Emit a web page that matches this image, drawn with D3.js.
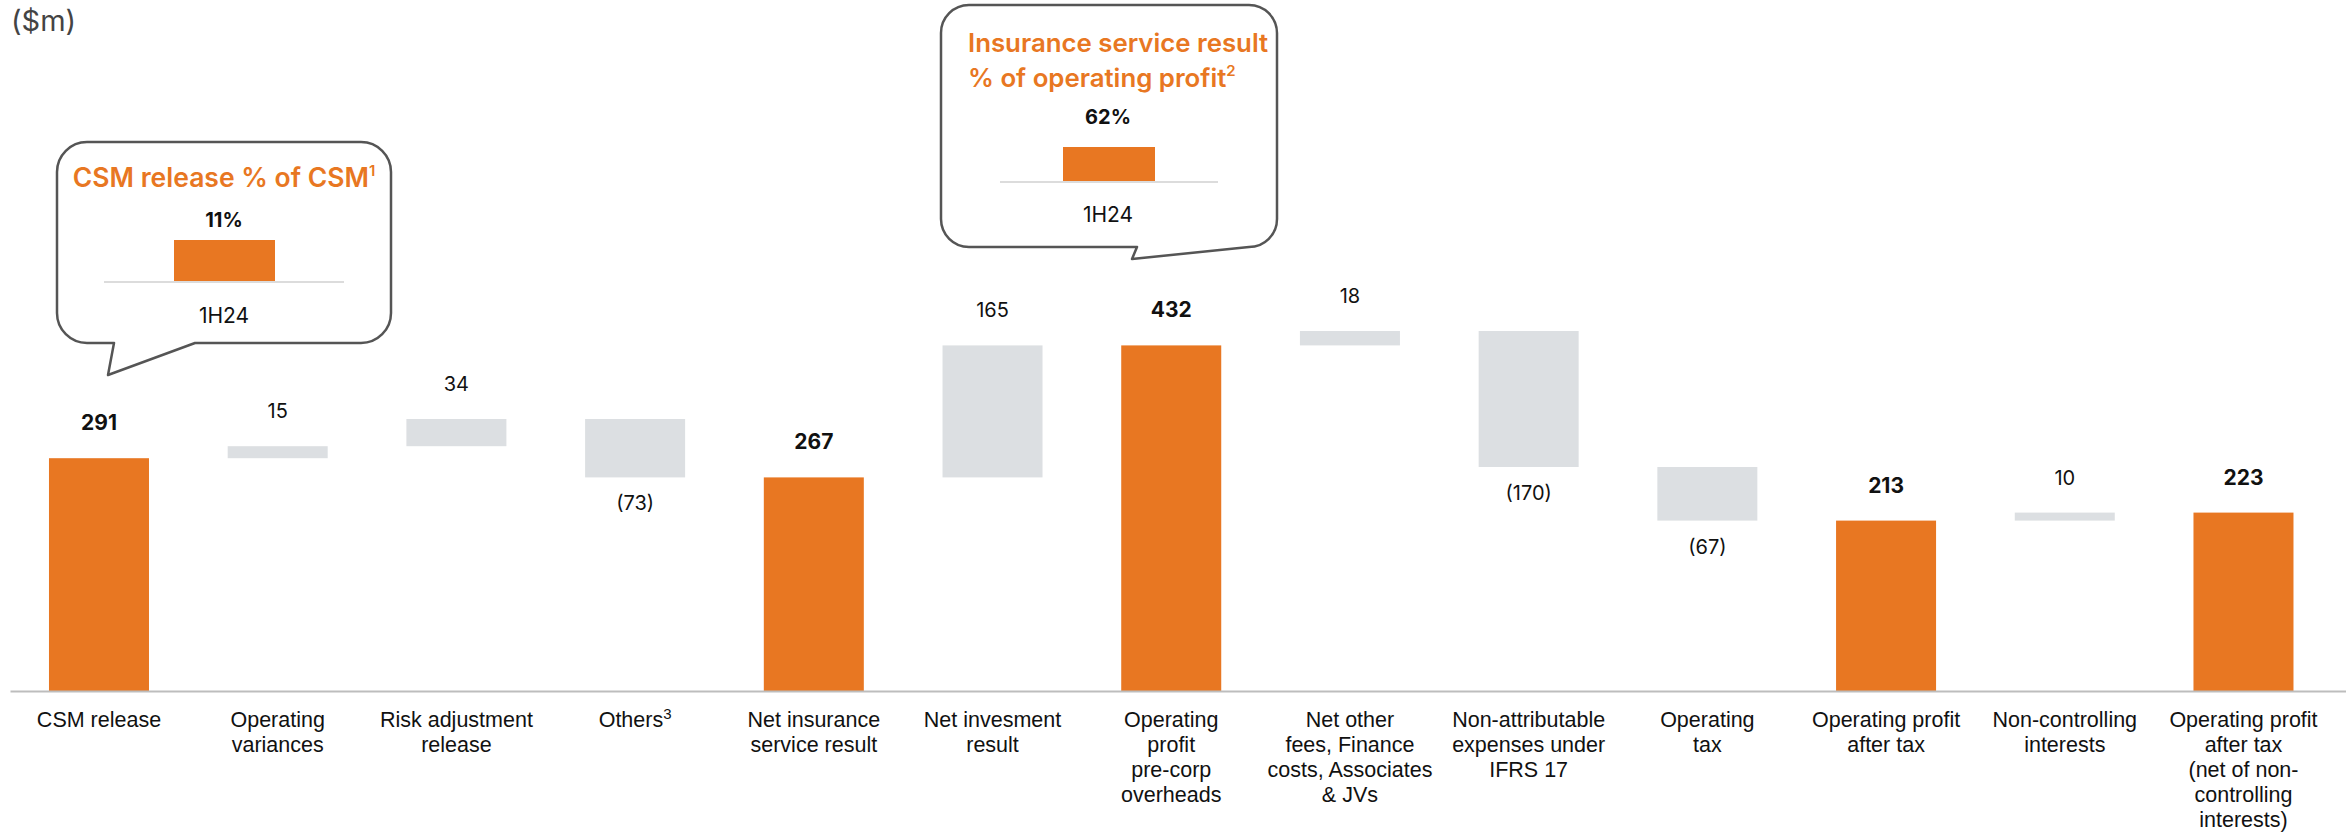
<!DOCTYPE html>
<html>
<head>
<meta charset="utf-8">
<script src="https://cdn.jsdelivr.net/npm/d3@7"></script>
<style>
  html, body { margin: 0; padding: 0; background: #ffffff; }
  svg { display: block; font-family: Inter, "Noto Sans", Arial, sans-serif; }
</style>
</head>
<body>
<svg id="chart" width="2346" height="833"></svg>
<script>
// ---------- data ----------
const categories = [
  "CSM release", "Operating variances", "Risk adjustment release", "Others",
  "Net insurance service result", "Net invesment result", "Operating profit pre-corp overheads",
  "Net other fees, Finance costs, Associates & JVs", "Non-attributable expenses under IFRS 17",
  "Operating tax", "Operating profit after tax", "Non-controlling interests",
  "Operating profit after tax (net of non-controlling interests)"
];
const categoryLines = [
  ["CSM release"],
  ["Operating", "variances"],
  ["Risk adjustment", "release"],
  ["Others|3"],
  ["Net insurance", "service result"],
  ["Net invesment", "result"],
  ["Operating", "profit", "pre-corp", "overheads"],
  ["Net other", "fees, Finance", "costs, Associates", "& JVs"],
  ["Non-attributable", "expenses under", "IFRS 17"],
  ["Operating", "tax"],
  ["Operating profit", "after tax"],
  ["Non-controlling", "interests"],
  ["Operating profit", "after tax", "(net of non-", "controlling", "interests)"]
];
const values = [291, 15, 34, -73, 267, 165, 432, 18, -170, -67, 213, 10, 223];
const barTypes = ["total", "delta", "delta", "delta", "total", "delta", "total",
                  "delta", "delta", "delta", "total", "delta", "total"];

const csmPeriod = ["1H24"];
const csmReleasePct = [11];
const isrPeriod = ["1H24"];
const isrPct = [62];

const unitLabel = "($m)";

// ---------- style ----------
const ORANGE = "#E87722";
const GREY = "#DCDFE2";
const TEXT = "#111111";

const svg = d3.select("#chart");

// ---------- scales ----------
const x = d3.scaleBand()
  .domain(categories)
  .range([10, 2346])
  .paddingInner(0.4404)
  .paddingOuter(0.256)
  .align(0.426);

const y = d3.scaleLinear()
  .domain([0, 450])
  .range([691, 331]);

// waterfall computation
let running = 0;
const bars = categories.map((c, i) => {
  const v = values[i];
  let y0, y1;
  if (barTypes[i] === "total") {
    y0 = 0; y1 = v; running = v;
  } else {
    y0 = running; y1 = running + v; running = y1;
  }
  return { cat: c, value: v, type: barTypes[i], lo: Math.min(y0, y1), hi: Math.max(y0, y1) };
});

// ---------- bars ----------
svg.append("g").selectAll("rect")
  .data(bars)
  .join("rect")
  .attr("x", d => x(d.cat))
  .attr("width", x.bandwidth())
  .attr("y", d => y(d.hi))
  .attr("height", d => y(d.lo) - y(d.hi))
  .attr("fill", d => d.type === "total" ? ORANGE : GREY);

// ---------- value labels ----------
svg.append("g").selectAll("text")
  .data(bars)
  .join("text")
  .attr("x", d => x(d.cat) + x.bandwidth() / 2)
  .attr("y", d => d.value >= 0 ? y(d.hi) - 28 : y(d.lo) + 33)
  .attr("text-anchor", "middle")
  .attr("fill", TEXT)
  .style("font-size", d => d.type === "total" ? "21px" : "20px")
  .style("font-weight", d => d.type === "total" ? 700 : 400)
  .text(d => d.value >= 0 ? d3.format("d")(d.value) : "(" + d3.format("d")(-d.value) + ")");

// ---------- x axis ----------
const xAxis = d3.axisBottom(x).tickSize(0).tickFormat("");
const axisG = svg.append("g")
  .attr("transform", `translate(0,${y(0)})`)
  .call(xAxis);
axisG.select(".domain").attr("stroke", "#bdbdbd").attr("stroke-width", 2);

axisG.selectAll(".tick").each(function(d, i) {
  const t = d3.select(this).append("text")
    .attr("text-anchor", "middle")
    .attr("fill", TEXT)
    .style("font-size", "21.5px")
    .attr("y", 36);
  categoryLines[i].forEach((line, j) => {
    const parts = line.split("|");
    t.append("tspan")
      .attr("x", 0)
      .attr("dy", j === 0 ? 0 : 25)
      .text(parts[0]);
    if (parts[1]) {
      t.append("tspan")
        .attr("dy", -8)
        .style("font-size", "15px")
        .text(parts[1]);
    }
  });
});

// ---------- unit label ----------
svg.append("text")
  .attr("x", 11)
  .attr("y", 31)
  .attr("fill", "#444")
  .style("font-size", "29px")
  .text(unitLabel);

// ---------- callouts ----------
function calloutPath(x0, y0, x1, y1, r, footL, tip, footR) {
  const p = d3.path();
  p.moveTo(x0 + r, y0);
  p.lineTo(x1 - r, y0);
  p.arcTo(x1, y0, x1, y0 + r, r);
  p.lineTo(x1, y1 - r);
  p.arcTo(x1, y1, x1 - r, y1, r);
  p.lineTo(footR, y1);
  p.lineTo(tip[0], tip[1]);
  p.lineTo(footL, y1);
  p.lineTo(x0 + r, y1);
  p.arcTo(x0, y1, x0, y1 - r, r);
  p.lineTo(x0, y0 + r);
  p.arcTo(x0, y0, x0 + r, y0, r);
  p.closePath();
  return p.toString();
}

function miniChart(g, period, pct, bx0, bx1, lineX0, lineX1, baseY, topY, cx, pctY, periodY) {
  const mx = d3.scaleBand().domain(period).range([bx0, bx1]);
  const my = d3.scaleLinear().domain([0, pct[0]]).range([baseY, topY]);
  g.append("line")
    .attr("x1", lineX0).attr("x2", lineX1)
    .attr("y1", baseY + 1).attr("y2", baseY + 1)
    .attr("stroke", "#dcdcdc").attr("stroke-width", 2);
  g.selectAll("rect.mini").data(pct).join("rect")
    .attr("class", "mini")
    .attr("x", (d, i) => mx(period[i]))
    .attr("width", mx.bandwidth())
    .attr("y", d => my(d))
    .attr("height", d => my(0) - my(d))
    .attr("fill", ORANGE);
  g.selectAll("text.pct").data(pct).join("text")
    .attr("class", "pct")
    .attr("x", cx).attr("y", pctY)
    .attr("text-anchor", "middle")
    .attr("fill", TEXT)
    .style("font-size", "20px").style("font-weight", 700)
    .text(d => d + "%");
  g.selectAll("text.per").data(period).join("text")
    .attr("class", "per")
    .attr("x", cx).attr("y", periodY)
    .attr("text-anchor", "middle")
    .attr("fill", TEXT)
    .style("font-size", "21px")
    .text(d => d);
}

// Callout 1
const c1 = svg.append("g");
c1.append("path")
  .attr("d", calloutPath(57, 142, 391, 343, 30, 114, [108, 375], 195))
  .attr("fill", "#fff")
  .attr("stroke", "#555")
  .attr("stroke-width", 2.5)
  .attr("stroke-linejoin", "round");
const t1 = c1.append("text")
  .attr("x", 224).attr("y", 187)
  .attr("text-anchor", "middle")
  .attr("fill", ORANGE)
  .style("font-size", "26.5px").style("font-weight", 600);
t1.append("tspan").text("CSM release % of CSM");
t1.append("tspan").attr("dy", -11).style("font-size", "15px").text("1");
miniChart(c1, csmPeriod, csmReleasePct, 174, 275, 104, 344, 281, 240, 224, 227, 323);

// Callout 2
const c2 = svg.append("g");
c2.append("path")
  .attr("d", calloutPath(941, 5, 1277, 247, 28, 1137, [1132, 259], 1249))
  .attr("fill", "#fff")
  .attr("stroke", "#555")
  .attr("stroke-width", 2.5)
  .attr("stroke-linejoin", "round");
const t2 = c2.append("text")
  .attr("x", 968).attr("y", 52)
  .attr("fill", ORANGE)
  .style("font-size", "25.8px").style("font-weight", 600);
t2.append("tspan").attr("x", 968).text("Insurance service result");
t2.append("tspan").attr("x", 968).attr("dy", 35).text("% of operating profit");
t2.append("tspan").attr("dy", -11).style("font-size", "15px").text("2");
miniChart(c2, isrPeriod, isrPct, 1063, 1155, 1000, 1218, 181, 147, 1108, 124, 222);
</script>
</body>
</html>
